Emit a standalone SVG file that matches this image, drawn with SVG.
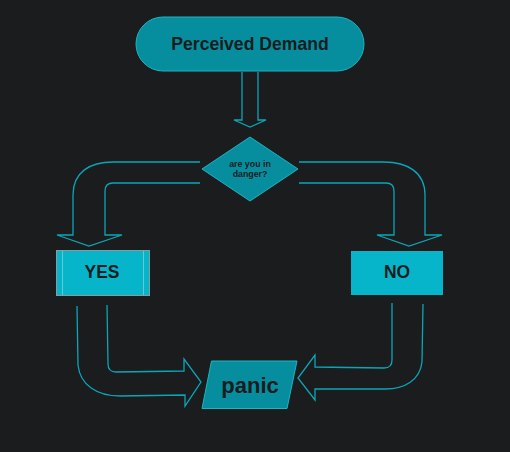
<svg xmlns="http://www.w3.org/2000/svg" width="510" height="452" viewBox="0 0 510 452">
<style>
.t{font-family:"Liberation Sans",Arial,sans-serif;font-weight:bold;fill:#1a1c1e;text-anchor:middle}
.dk{fill:#068e9e;stroke:#1fb3c4;stroke-width:1}
.br{fill:#07b5cb}
.c{fill:none;stroke:#0aa6b8;stroke-width:1.3;stroke-linejoin:miter}
</style>
<rect x="0" y="0" width="510" height="452" fill="#1b1c1e"/>
<g id="connectors">
<path class="c" d="M242,72 V120 H234 L250,127 L266,120 H258 V72"/>
<path class="c" d="M200,162 H113 C90,162 73,172 73,195 V235 H57 L89,246 L122,235 H105 V191 C105,186 108,183 113,183 H200"/>
<path class="c" d="M299,162 H384 C407,162 425,172 425,195 V235 H442 L409,246 L377,235 H394 V191 C394,186 391,183 386,183 H299"/>
<path class="c" d="M77,306 L78,365 C80,385 97,396 120,396 L185,395 V406 L201,382 L184,359 V371 L116,372 C111,372 108,369 108,364 L107,305"/>
<path class="c" d="M423,304 L422,362 C420,380 405,389 385,389 L315,389 V400 L298,378 L315,355 V367 L384,368 C389,368 392,365 392,360 L392,303"/>
</g>
<g id="perceived-demand">
<rect class="dk" x="136" y="17" width="228" height="54" rx="27" ry="27"/>
<text class="t" x="250" y="50" font-size="17.6">Perceived Demand</text>
</g>
<g id="danger">
<polygon class="dk" points="250,137 298,169 250,201 202,169"/>
<text class="t" x="250" y="167" font-size="8.8">are you in</text>
<text class="t" x="250" y="177" font-size="8.8">danger?</text>
</g>
<g id="yes">
<rect class="br" x="56.5" y="250.5" width="93" height="45" stroke="#8a9a9e" stroke-width="1"/>
<line x1="62.5" y1="251" x2="62.5" y2="295" stroke="#5fc9d6" stroke-width="1"/>
<line x1="143.5" y1="251" x2="143.5" y2="295" stroke="#5fc9d6" stroke-width="1"/>
<text class="t" x="102" y="278" font-size="17.5">YES</text>
</g>
<g id="no">
<rect class="br" x="351" y="251" width="92" height="44"/>
<text class="t" x="397" y="278" font-size="17.5">NO</text>
</g>
<g id="panic">
<polygon class="dk" points="211.5,361 297,361 287,408.5 202,408.5"/>
<text class="t" x="250" y="393" font-size="22">panic</text>
</g>
</svg>
